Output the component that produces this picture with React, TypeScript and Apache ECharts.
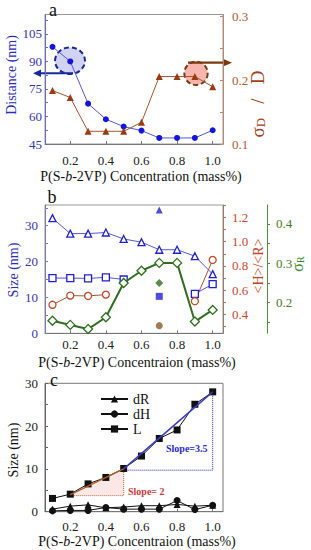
import React, { useEffect, useRef } from "react";
import * as echarts from "echarts";

// ---------- data ----------
const conc = [0.1, 0.2, 0.3, 0.4, 0.5, 0.6, 0.7, 0.8, 0.9, 1.0];
const xTicks = [0.2, 0.4, 0.6, 0.8, 1.0];

// panel a
const distance = [98, 90, 67, 58.5, 54.5, 52.3, 48.3, 48.3, 48.3, 52.5];
const sigmaDRatio = [0.184, 0.173, 0.12, 0.12, 0.12, 0.134, 0.206, 0.206, 0.206, 0.19];
const distTicks = [45, 60, 75, 90, 105];
const sigmaDTicks = [0.1, 0.2, 0.3];

// panel b
const sizeTri = [32.1, 27.8, 27.8, 28.1, 26.3, 25.4, 23.3, 23.3, 21.5, 16.5];
const sizeSq = [15.4, 15.4, 15.3, 15.6, 15.0, null, null, null, 11.0, 13.7];
const ratioHR = [0.48, 0.556, 0.553, 0.564, null, null, null, null, 0.51, 0.85];
const sigmaR = [0.154, 0.1435, 0.133, 0.163, 0.25, 0.281, 0.301, 0.301, 0.152, 0.1815];
const extraTri = [[0.7, 34.4]];
const extraSq = [[0.7, 10.3]];
const extraCircle = [[0.7, 0.308]];
const extraDiamond = [[0.7, 0.25]];
const sizeTicksB = [0, 10, 20, 30];
const ratioTicks = [0.4, 0.6, 0.8, 1.0, 1.2];
const sigmaRTicks = [0.2, 0.3, 0.4];

// panel c
const dR = [0.6, 1.3, 1.6, 0.9, 1.1, 1.4, 1.4, 1.7, 1.3, 1.5];
const dH = [0.2, 0.3, 0.3, 1.0, 0.6, 0.6, 0.6, 2.6, 0.5, 1.5];
const L = [3.1, 4.1, 6.5, 8.0, 10.1, 13.0, 17.1, 19.1, 25.1, 28.0];
const fit35 = [[0.5, 10], [1.0, 28]];
const guide35 = [[0.5, 9.7], [1.0, 9.7], [1.0, 28]];
const fit2 = [[0.2, 4], [0.5, 10]];
const guide2 = [[0.2, 3.75], [0.5, 3.75], [0.5, 10]];
const sizeTicksC = [0, 10, 20, 30];

const pairs = (ys: (number | null)[]) => conc.map((x, i) => [x, ys[i]]);

const FONT = "Liberation Serif";

export default function App() {
  const ref = useRef<HTMLDivElement>(null);
  useEffect(() => {
    if (!ref.current) return;
    const chart = echarts.init(ref.current, null, { renderer: "svg" });

    const xAxis = (gridIndex: number, margin: number) => ({
      type: "value",
      gridIndex,
      min: 0.058,
      max: 1.058,
      axisLine: { show: true, onZero: false, lineStyle: { color: "#777", width: 1 } },
      axisTick: { show: true, inside: true, length: 3, customValues: xTicks, lineStyle: { color: "#777" } },
      axisLabel: {
        customValues: xTicks,
        formatter: (v: number) => v.toFixed(1),
        margin,
        fontFamily: FONT,
        fontSize: 13,
        color: "#222",
      },
      splitLine: { show: false },
    });

    const yAxis = (o: any) => ({
      type: "value",
      splitLine: { show: false },
      axisLine: { show: true, onZero: false, lineStyle: { color: o.lineColor, width: 1 } },
      axisTick: {
        show: true,
        inside: o.inside,
        length: 3,
        customValues: o.tickValues,
        lineStyle: { color: o.lineColor },
      },
      axisLabel: {
        customValues: o.labels,
        formatter: o.fmt,
        margin: o.margin,
        fontFamily: FONT,
        fontSize: 13,
        color: o.labelColor,
      },
      gridIndex: o.grid,
      position: o.position,
      offset: o.offset || 0,
      min: o.min,
      max: o.max,
    });

    const rot = (text: string, x: number, y: number, fill: string, size: number, rich?: any) => ({
      type: "text",
      x,
      y,
      rotation: Math.PI / 2,
      style: {
        text,
        fill,
        fontFamily: FONT,
        fontSize: size,
        align: "center",
        verticalAlign: "middle",
        rich,
      },
    });

    const xTitleRich = {
      i: { fontStyle: "italic", fontFamily: FONT, fontSize: 14, fill: "#111" },
    };
    const xTitle = (text: string, x: number, y: number) => ({
      type: "text",
      x,
      y,
      style: {
        text,
        fill: "#111",
        fontFamily: FONT,
        fontSize: 14,
        align: "center",
        verticalAlign: "middle",
        rich: xTitleRich,
      },
    });
    const letter = (t: string, x: number, y: number) => ({
      type: "text",
      x,
      y,
      style: { text: t, fill: "#111", fontFamily: FONT, fontSize: 18, align: "center", verticalAlign: "middle" },
    });

    const blueDot = "#1414e0";
    const blueLine = "#5656dc";
    const brown = "#9a3a12";
    const brownLine = "#a5552f";
    const bBlue = "#2020d4";
    const hrColor = "#c04a2c";
    const green = "#2f6f1f";

    const option: any = {
      animation: false,
      grid: [
        { left: 45, top: 14.5, width: 178, height: 129.5, show: true, borderColor: "#999", borderWidth: 1 },
        { left: 45, top: 205, width: 178, height: 128.3, show: true, borderColor: "#999", borderWidth: 1 },
        { left: 45, top: 383.3, width: 178, height: 128.4, show: true, borderColor: "#777", borderWidth: 1 },
      ],
      xAxis: [xAxis(0, 10), xAxis(1, 5), xAxis(2, 8)],
      yAxis: [
        yAxis({
          grid: 0, position: "left", min: 45, max: 115.6, labels: distTicks,
          tickValues: [45, 52.5, 60, 67.5, 75, 82.5, 90, 97.5, 105, 112.5],
          fmt: (v: number) => String(v), margin: 3, lineColor: "#6a6ac8", labelColor: "#3434b4", inside: true,
        }),
        yAxis({
          grid: 0, position: "right", min: 0.1, max: 0.3035, labels: sigmaDTicks,
          tickValues: [0.1, 0.15, 0.2, 0.25, 0.3],
          fmt: (v: number) => v.toFixed(1), margin: 9, lineColor: "#b58a70", labelColor: "#b05a36", inside: true,
        }),
        yAxis({
          grid: 1, position: "left", min: 0, max: 35.77, labels: sizeTicksB,
          tickValues: [0, 5, 10, 15, 20, 25, 30, 35],
          fmt: (v: number) => String(v), margin: 7, lineColor: "#7a7ab8", labelColor: "#3434b4", inside: true,
        }),
        yAxis({
          grid: 1, position: "right", min: 0.245, max: 1.303, labels: ratioTicks,
          tickValues: [0.3, 0.4, 0.5, 0.6, 0.7, 0.8, 0.9, 1.0, 1.1, 1.2, 1.3],
          fmt: (v: number) => v.toFixed(1), margin: 9, lineColor: "#9a7a66", labelColor: "#d0452e", inside: false,
        }),
        yAxis({
          grid: 1, position: "right", offset: 44, min: 0.1222, max: 0.448, labels: sigmaRTicks,
          tickValues: [0.15, 0.2, 0.25, 0.3, 0.35, 0.4, 0.45],
          fmt: (v: number) => v.toFixed(1), margin: 9, lineColor: "#5a8a40", labelColor: "#4a7a2a", inside: false,
        }),
        yAxis({
          grid: 2, position: "left", min: 0, max: 30, labels: sizeTicksC,
          tickValues: [0, 5, 10, 15, 20, 25, 30],
          fmt: (v: number) => String(v), margin: 7, lineColor: "#666", labelColor: "#222", inside: true,
        }),
      ],
      legend: {
        data: ["dR", "dH", "L"],
        orient: "vertical",
        left: 95,
        top: 387,
        itemWidth: 27,
        itemHeight: 9,
        itemGap: 1,
        textStyle: { fontFamily: FONT, fontSize: 14, color: "#111", lineHeight: 14 },
      },
      series: [
        // panel a
        {
          type: "line", xAxisIndex: 0, yAxisIndex: 0, data: pairs(distance),
          symbol: "circle", symbolSize: 6, lineStyle: { color: blueLine, width: 1 },
          itemStyle: { color: blueDot }, z: 3,
        },
        {
          type: "line", xAxisIndex: 0, yAxisIndex: 1, data: pairs(sigmaDRatio),
          symbol: "triangle", symbolSize: 7, lineStyle: { color: brownLine, width: 1 },
          itemStyle: { color: brown },
        },
        // panel b
        {
          type: "line", xAxisIndex: 1, yAxisIndex: 2, data: pairs(sizeTri),
          symbol: "triangle", symbolSize: 7, lineStyle: { color: blueLine, width: 1 },
          itemStyle: { color: "#fff", borderColor: bBlue, borderWidth: 1.3 },
        },
        {
          type: "line", xAxisIndex: 1, yAxisIndex: 2, data: pairs(sizeSq), connectNulls: false,
          symbol: "rect", symbolSize: 7, lineStyle: { color: blueLine, width: 1 },
          itemStyle: { color: "#fff", borderColor: bBlue, borderWidth: 1.3 },
        },
        {
          type: "scatter", xAxisIndex: 1, yAxisIndex: 2, data: extraTri,
          symbol: "triangle", symbolSize: 7, itemStyle: { color: bBlue },
        },
        {
          type: "scatter", xAxisIndex: 1, yAxisIndex: 2, data: extraSq,
          symbol: "rect", symbolSize: 7, itemStyle: { color: bBlue },
        },
        {
          type: "line", xAxisIndex: 1, yAxisIndex: 3, data: pairs(ratioHR), connectNulls: false,
          symbol: "circle", symbolSize: 7, lineStyle: { color: brownLine, width: 1 },
          itemStyle: { color: "#fff", borderColor: hrColor, borderWidth: 1.3 },
        },
        {
          type: "scatter", xAxisIndex: 1, yAxisIndex: 3, data: extraCircle,
          symbol: "circle", symbolSize: 7, itemStyle: { color: "#8a5a2a" },
        },
        {
          type: "line", xAxisIndex: 1, yAxisIndex: 4, data: pairs(sigmaR),
          symbol: "diamond", symbolSize: 9, lineStyle: { color: green, width: 2 },
          itemStyle: { color: "#fff", borderColor: green, borderWidth: 1.3 }, z: 4,
        },
        {
          type: "scatter", xAxisIndex: 1, yAxisIndex: 4, data: extraDiamond,
          symbol: "diamond", symbolSize: 8, itemStyle: { color: green },
        },
        // panel c
        {
          type: "custom", xAxisIndex: 2, yAxisIndex: 5, data: [[0.2, 4]], silent: true, z: 1,
          renderItem: (_p: any, api: any) => ({
            type: "polygon",
            shape: { points: [fit2[0], fit2[1], guide2[1], guide2[0]].map((p) => api.coord(p)) },
            style: { fill: "rgba(245,170,170,0.28)" },
          }),
        },
        {
          type: "line", xAxisIndex: 2, yAxisIndex: 5, data: guide2, symbol: "none",
          lineStyle: { color: "#b06a3a", width: 1, type: "dotted" }, z: 2,
        },
        {
          type: "line", xAxisIndex: 2, yAxisIndex: 5, data: guide35, symbol: "none",
          lineStyle: { color: "#2a2ad0", width: 1, type: "dotted" }, z: 2,
        },
        {
          name: "dR", type: "line", xAxisIndex: 2, yAxisIndex: 5, data: pairs(dR),
          symbol: "triangle", symbolSize: 7, lineStyle: { color: "#111", width: 1 },
          itemStyle: { color: "#111" },
        },
        {
          name: "dH", type: "line", xAxisIndex: 2, yAxisIndex: 5, data: pairs(dH),
          symbol: "circle", symbolSize: 7, lineStyle: { color: "#111", width: 1 },
          itemStyle: { color: "#111" },
        },
        {
          name: "L", type: "line", xAxisIndex: 2, yAxisIndex: 5, data: pairs(L),
          symbol: "rect", symbolSize: 7, lineStyle: { color: "#111", width: 1 },
          itemStyle: { color: "#111" },
        },
        {
          type: "line", xAxisIndex: 2, yAxisIndex: 5, data: fit35, symbol: "none",
          lineStyle: { color: "#3a3ac8", width: 1.5 }, z: 4,
        },
        {
          type: "line", xAxisIndex: 2, yAxisIndex: 5, data: fit2, symbol: "none",
          lineStyle: { color: "#b0602a", width: 1.5 }, z: 4,
        },
      ],
      graphic: [
        // panel a annotations
        {
          type: "ellipse", shape: { cx: 70, cy: 60.7, rx: 15, ry: 13.3 }, z: 0,
          style: { fill: "#d2d2f2", stroke: "#1a2a8a", lineWidth: 2, lineDash: [5, 3] },
        },
        {
          type: "line", shape: { x1: 73, y1: 73.3, x2: 40, y2: 73.3 },
          style: { stroke: "#1a2a9a", lineWidth: 2 },
        },
        {
          type: "polygon", shape: { points: [[33, 73.3], [41, 69.6], [41, 77]] },
          style: { fill: "#1a2a9a" },
        },
        {
          type: "circle", shape: { cx: 196, cy: 73.3, r: 11.7 }, z: 0,
          style: { fill: "#f6b6ae", stroke: "#7a3a10", lineWidth: 2, lineDash: [5, 3] },
        },
        {
          type: "line", shape: { x1: 188, y1: 62.7, x2: 224, y2: 62.7 },
          style: { stroke: "#7a3a10", lineWidth: 2.2 },
        },
        {
          type: "polygon", shape: { points: [[232, 62.7], [223, 58.8], [223, 66.6]] },
          style: { fill: "#7a3a10" },
        },
        letter("a", 53, 10),
        letter("b", 52, 197),
        letter("c", 54, 380),
        rot("Distance (nm)", 11, 75, "#2b2bc0", 14),
        rot("σ{sub|D}   /   D", 257, 104, "#a4421c", 19, {
          sub: { fontSize: 13, fill: "#a4421c", fontFamily: FONT, verticalAlign: "bottom" },
        }),
        xTitle("P(S-{i|b}-2VP) Concentration (mass%)", 141, 176),
        rot("Size (nm)", 13, 270, "#2b2bc0", 14),
        rot("<H>/<R>", 258, 266, "#c8452c", 14),
        rot("σ{sub|R}", 297, 264, "#3a8a2a", 16, {
          sub: { fontSize: 10, fill: "#3a8a2a", fontFamily: FONT, verticalAlign: "bottom" },
        }),
        xTitle("P(S-{i|b}-2VP) Concentraion (mass%)", 137, 362),
        rot("Size (nm)", 13, 450, "#111", 14),
        xTitle("P(S-{i|b}-2VP) Concentraion (mass%)", 137, 541),
        {
          type: "text", x: 166, y: 448.3,
          style: { text: "Slope=3.5", fill: "#2a2ad0", fontFamily: FONT, fontSize: 10, fontWeight: "bold", align: "left", verticalAlign: "middle" },
        },
        {
          type: "text", x: 128, y: 491.7,
          style: { text: "Slope= 2", fill: "#d03a3a", fontFamily: FONT, fontSize: 10, fontWeight: "bold", align: "left", verticalAlign: "middle" },
        },
      ],
    };

    chart.setOption(option);
    return () => chart.dispose();
  }, []);

  return (
    <div
      ref={ref}
      style={{ position: "fixed", left: 0, top: 0, width: 311, height: 550, background: "#fff" }}
    />
  );
}
